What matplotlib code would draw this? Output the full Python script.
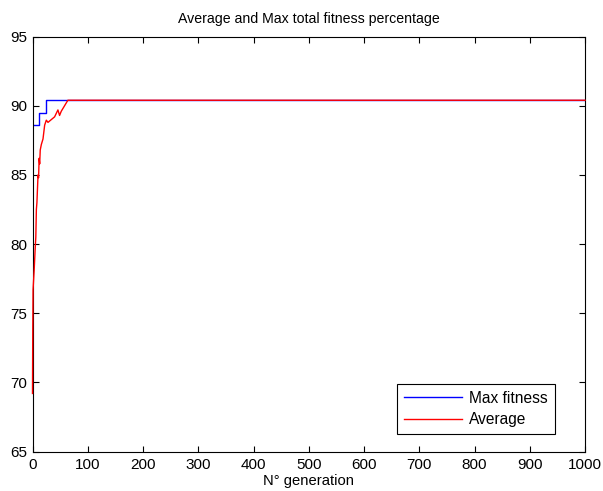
import matplotlib
matplotlib.use("Agg")
import matplotlib.pyplot as plt

plt.rcParams['font.family'] = ['Liberation Sans', 'DejaVu Sans']

# Max fitness: step values per generation
max_gen = [0, 11, 11, 25, 25, 1000]
max_fit = [88.6, 88.6, 89.45, 89.45, 90.4, 90.4]

# Average fitness
avg_gen = [0, 0.5, 1, 3, 5, 6, 7, 8, 10, 11, 12, 13, 14, 16, 19, 22, 25, 28, 31,
           34, 37, 40, 43, 46, 49, 52, 55, 58, 61, 64, 1000]
avg_fit = [69.2, 74.0, 76.7, 78.1, 79.8, 80.5, 82.5, 83.0, 85.0, 84.8, 86.2, 85.8, 86.8,
           87.2, 87.6, 88.6, 88.96, 88.8, 88.9, 89.0, 89.1, 89.2, 89.45, 89.7, 89.3,
           89.6, 89.8, 90.0, 90.2, 90.4, 90.4]

fig = plt.figure(figsize=(6.03, 4.91), dpi=100)
ax = fig.add_axes([0.0539, 0.0804, 0.9163, 0.845])

ax.plot(max_gen, max_fit, color='#0000ff', lw=1.0, label='Max fitness')
ax.plot(avg_gen, avg_fit, color='#ff0000', lw=1.0, label='Average', clip_on=False, zorder=3)

ax.set_xlim(0, 1000)
ax.set_ylim(65, 95)
ax.set_xticks(range(0, 1001, 100))
ax.set_yticks(range(65, 96, 5))
ax.tick_params(direction='in', top=True, right=True, labelsize=11, length=4)
ax.tick_params(axis='x', pad=4.8)
ax.tick_params(axis='y', pad=3.6)
ax.set_xlabel('N° generation', fontsize=10.6, labelpad=1)
ax.set_title('Average and Max total fitness percentage', fontsize=10.2, pad=9.5)

leg = ax.legend(loc='lower right', bbox_to_anchor=(0.9457, 0.042), fontsize=11.2,
                fancybox=False, edgecolor='black', framealpha=1,
                handlelength=3.75, borderpad=0.45, labelspacing=0.4, handletextpad=0.45,
                borderaxespad=0)
leg.get_frame().set_linewidth(0.8)

fig.savefig('out.png', dpi=100)
